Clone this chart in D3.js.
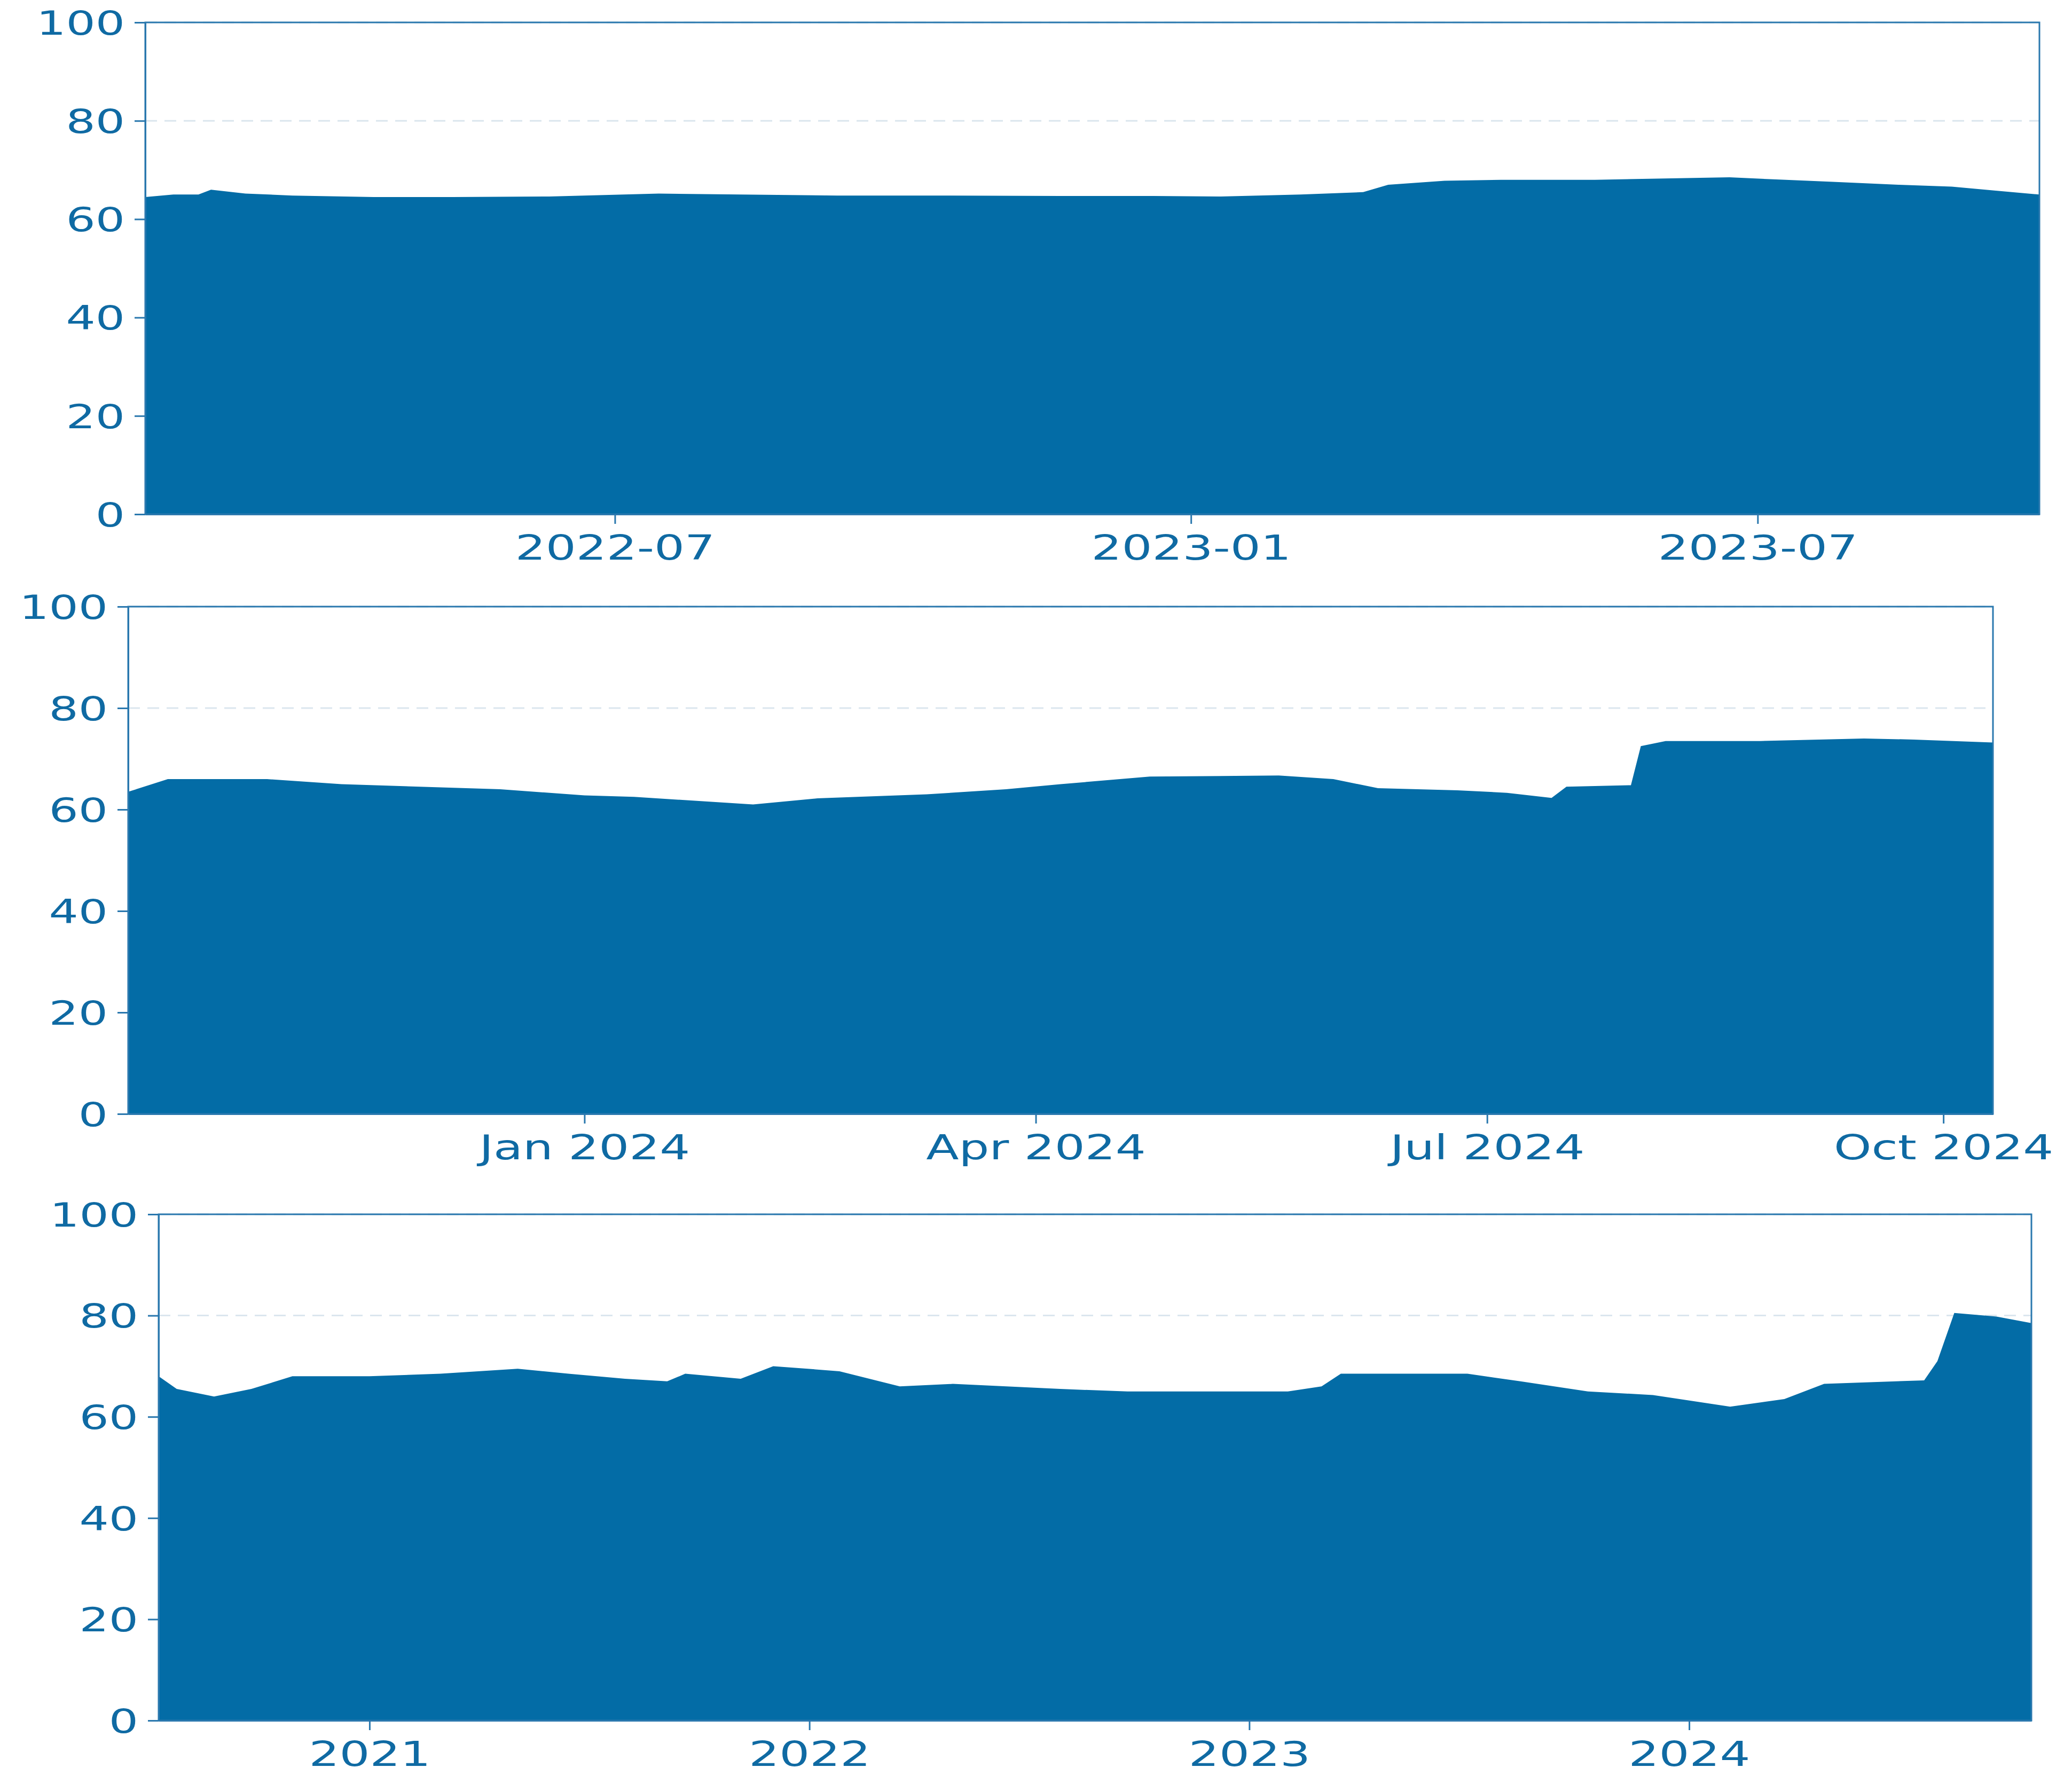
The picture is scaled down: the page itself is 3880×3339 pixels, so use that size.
<!DOCTYPE html>
<html>
<head>
<meta charset="utf-8">
<script src="https://cdn.jsdelivr.net/npm/d3@7"></script>
<style>
body { margin: 0; background: white; }
text { font-family: "DejaVu Sans", sans-serif; }
</style>
</head>
<body>
<svg id="chart" width="3880" height="3339"></svg>
<script>
//Colors
var colorFill = "#036ca6";
var colorAxis = "#2a78ae";
var colorText = "#0f6aa3";
var colorGrid = "#dbe6ee";

//Panel 1 data
var dates1 = ["2022-02-01","2022-02-10","2022-02-18","2022-02-22","2022-03-05","2022-03-20","2022-04-15","2022-05-10","2022-06-10","2022-07-15","2022-08-10","2022-09-10","2022-10-15","2022-11-20","2022-12-20","2023-01-10","2023-02-05","2023-02-25","2023-03-05","2023-03-23","2023-04-10","2023-05-10","2023-06-22","2023-07-10","2023-07-25","2023-08-15","2023-09-01","2023-09-15","2023-09-29"];
var values1 = [64.5,65,65,66,65.2,64.8,64.5,64.5,64.6,65.2,65,64.8,64.8,64.7,64.7,64.6,65,65.5,67,67.8,68,68,68.5,68,67.6,67,66.6,65.8,65];

//Panel 2 data
var dates2 = ["2023-10-01","2023-10-09","2023-10-29","2023-11-13","2023-12-15","2024-01-01","2024-01-11","2024-02-04","2024-02-17","2024-03-10","2024-03-26","2024-04-06","2024-04-24","2024-05-20","2024-05-31","2024-06-09","2024-06-25","2024-07-05","2024-07-14","2024-07-17","2024-07-30","2024-08-01","2024-08-06","2024-08-25","2024-09-15","2024-09-25","2024-10-11"];
var values2 = [63.5,66,66,65,64,62.8,62.5,61,62.2,63,64,65,66.5,66.7,66,64.2,63.8,63.3,62.3,64.5,64.8,72.5,73.5,73.5,74,73.8,73.2];

//Panel 3 data
var dates3 = ["2020-07-10","2020-07-25","2020-08-25","2020-09-25","2020-10-29","2021-01-01","2021-03-01","2021-05-04","2021-06-15","2021-08-01","2021-09-05","2021-09-20","2021-11-05","2021-12-02","2022-01-26","2022-03-17","2022-04-30","2022-07-28","2022-09-22","2023-02-02","2023-03-02","2023-03-18","2023-07-01","2023-08-14","2023-10-09","2023-12-02","2024-02-04","2024-03-20","2024-04-22","2024-07-14","2024-07-25","2024-08-08","2024-09-12","2024-10-11"];
var values3 = [68,65.5,64,65.5,68,68,68.5,69.5,68.5,67.5,67,68.5,67.5,70,69,66,66.5,65.5,65,65,66,68.5,68.5,67,65,64.3,62,63.5,66.5,67.2,71,80.5,79.8,78.5];

//Tick labels
var yTicks = [0,20,40,60,80,100];
var ticks1 = ["2022-07-01","2023-01-01","2023-07-01"];
var ticks2 = ["2024-01-01","2024-04-01","2024-07-01","2024-10-01"];
var ticks3 = ["2021-01-01","2022-01-01","2023-01-01","2024-01-01"];

var parse = d3.utcParse("%Y-%m-%d");
var svg = d3.select("#chart");
var textStretch = 1.4;

var panels = [
    {dates: dates1, values: values1, ticks: ticks1, fmt: d3.utcFormat("%Y-%m"), start: "2022-02-01", end: "2023-09-29", left: 272, right: 3819, top: 42, bottom: 963},
    {dates: dates2, values: values2, ticks: ticks2, fmt: d3.utcFormat("%b %Y"), start: "2023-10-01", end: "2024-10-11", left: 240, right: 3732, top: 1136, bottom: 2086},
    {dates: dates3, values: values3, ticks: ticks3, fmt: d3.utcFormat("%Y"), start: "2020-07-10", end: "2024-10-11", left: 297, right: 3804, top: 2274, bottom: 3222}
];

function stretchText(sel) {
    sel.each(function () {
        var w = this.getComputedTextLength();
        d3.select(this).attr("textLength", w * textStretch).attr("lengthAdjust", "spacingAndGlyphs");
    });
}

panels.forEach(function (p) {
    var data = p.dates.map(function (d, i) { return {date: parse(d), value: p.values[i]}; });

    var x = d3.scaleUtc().domain([parse(p.start), parse(p.end)]).range([p.left, p.right]);
    var y = d3.scaleLinear().domain([0, 100]).range([p.bottom, p.top]);

    var g = svg.append("g");

    //Grid
    g.selectAll(".grid").data(yTicks).join("line")
        .attr("x1", p.left).attr("x2", p.right)
        .attr("y1", function (d) { return y(d); }).attr("y2", function (d) { return y(d); })
        .attr("stroke", colorGrid).attr("stroke-width", 3).attr("stroke-dasharray", "22,14");

    //Area
    var area = d3.area().curve(d3.curveLinear)
        .x(function (d) { return x(d.date); })
        .y0(y(0)).y1(function (d) { return y(d.value); });
    g.append("path").datum(data).attr("d", area).attr("fill", colorFill);

    //Frame
    g.append("rect").attr("x", p.left).attr("y", p.top)
        .attr("width", p.right - p.left).attr("height", p.bottom - p.top)
        .attr("fill", "none").attr("stroke", colorAxis).attr("stroke-width", 3);

    //Y axis
    var yAxis = g.append("g").attr("transform", "translate(" + p.left + ",0)")
        .call(d3.axisLeft(y).tickValues(yTicks).tickSizeInner(20).tickSizeOuter(0).tickPadding(18));
    yAxis.select(".domain").attr("stroke", colorAxis).attr("stroke-width", 3);
    yAxis.selectAll(".tick line").attr("stroke", colorAxis).attr("stroke-width", 3);
    yAxis.selectAll("text").attr("fill", colorText).attr("font-size", 62)
        .attr("font-family", "DejaVu Sans").attr("dy", "0.36em").call(stretchText);

    //X axis
    var xAxis = g.append("g").attr("transform", "translate(0," + p.bottom + ")")
        .call(d3.axisBottom(x).tickValues(p.ticks.map(parse)).tickFormat(p.fmt).tickSizeInner(18).tickSizeOuter(0).tickPadding(22));
    xAxis.select(".domain").attr("stroke", colorAxis).attr("stroke-width", 3);
    xAxis.selectAll(".tick line").attr("stroke", colorAxis).attr("stroke-width", 3);
    xAxis.selectAll("text").attr("fill", colorText).attr("font-size", 64)
        .attr("font-family", "DejaVu Sans").call(stretchText);
});
</script>
</body>
</html>
